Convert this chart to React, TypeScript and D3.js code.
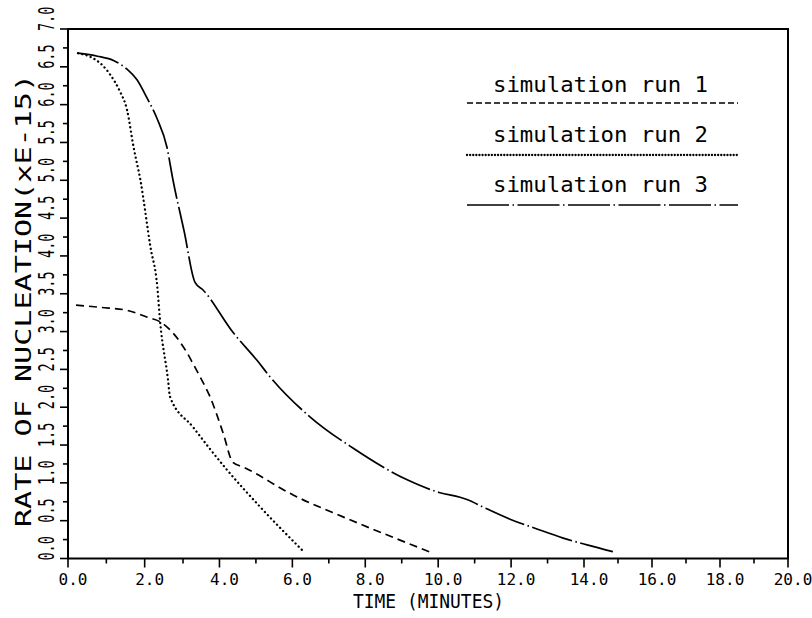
import React from "react";
import * as d3 from "d3";

// ---- data (time in minutes, rate x E-15) ----
const run1T = [0.21, 0.85, 1.55, 2.07, 2.4, 2.74, 3.11, 3.27, 3.47, 3.74, 4.1, 4.37, 4.65, 6.02, 7.39, 8.76, 9.86];
const run1V = [3.35, 3.32, 3.28, 3.19, 3.13, 2.98, 2.72, 2.58, 2.4, 2.14, 1.66, 1.27, 1.21, 0.84, 0.55, 0.28, 0.07];

const run2T = [0.26, 0.59, 0.9, 1.11, 1.35, 1.54, 1.71, 1.89, 2.15, 2.33, 2.4, 2.61, 2.66, 3.27, 4.21, 5.12, 6.27];
const run2V = [6.68, 6.63, 6.52, 6.39, 6.18, 5.93, 5.44, 5.0, 4.12, 3.59, 3.15, 2.36, 2.14, 1.74, 1.17, 0.68, 0.11];

const run3T = [0.26, 0.77, 1.2, 1.54, 1.8, 2.05, 2.32, 2.58, 2.74, 3.03, 3.33, 3.55, 4.37, 5.03, 5.39, 6.49, 7.66, 9.15, 10.05, 10.6, 10.79, 11.23, 11.97, 12.71, 13.43, 14.09, 14.85];
const run3V = [6.68, 6.64, 6.58, 6.47, 6.33, 6.1, 5.82, 5.44, 5.0, 4.33, 3.65, 3.55, 2.99, 2.62, 2.4, 1.87, 1.46, 1.04, 0.87, 0.81, 0.78, 0.68, 0.52, 0.39, 0.27, 0.18, 0.09];

const seriesNames = ["simulation run 1", "simulation run 2", "simulation run 3"];
const xTickLabels = ["0.0", "2.0", "4.0", "6.0", "8.0", "10.0", "12.0", "14.0", "16.0", "18.0", "20.0"];
const yTickLabels = ["0.0", "0.5", "1.0", "1.5", "2.0", "2.5", "3.0", "3.5", "4.0", "4.5", "5.0", "5.5", "6.0", "6.5", "7.0"];
const xTitle = "TIME (MINUTES)";
const yTitle = "RATE OF NUCLEATION(xE-15)";

// ---- layout ----
const W = 812;
const H = 618;
const LEFT = 68;
const RIGHT = 788;
const TOP = 29;
const BOTTOM = 558.5;

// plotter sheet is slightly distorted horizontally: piecewise-linear scale
const x = d3.scaleLinear().domain([0, 3, 14, 20]).range([LEFT, 183, 584, RIGHT]);
const y = d3.scaleLinear().domain([0, 7]).range([BOTTOM, TOP]);

const FONT = "'DejaVu Sans Mono', monospace";

const styles = [
  { dash: "8 5", width: 1.7, cap: "butt" as const, legendDash: "6 3" },
  { dash: "0.1 4.3", width: 2.3, cap: "round" as const, legendDash: "0.1 3" },
  { dash: "42 3.5 1.5 3.5", width: 1.7, cap: "butt" as const, legendDash: "42 3.5 1.5 3.5" },
];

function toPts(ts: number[], vs: number[]): [number, number][] {
  return ts.map((t, i) => [t, vs[i]]);
}

export default function App() {
  const line = d3
    .line<[number, number]>()
    .x((d) => x(d[0]))
    .y((d) => y(d[1]))
    .curve(d3.curveMonotoneX);

  const series = [toPts(run1T, run1V), toPts(run2T, run2V), toPts(run3T, run3V)];

  const xMinor = d3.range(0, 21, 1);
  const yMinor = d3.range(0, 7.01, 0.25);

  const legendX1 = 467;
  const legendX2 = 738;
  const legendTextX = 493;
  const legendBase = [92, 142, 192];
  const legendLineY = [103, 155, 205];

  return (
    <svg
      width={W}
      height={H}
      style={{ position: "absolute", left: 0, top: 0, background: "#fff" }}
    >
      <rect x={0} y={0} width={W} height={H} fill="#fff" />
      {/* frame */}
      <rect
        x={LEFT}
        y={TOP}
        width={RIGHT - LEFT}
        height={BOTTOM - TOP}
        fill="none"
        stroke="#000"
        strokeWidth={2}
      />
      {/* x ticks */}
      {xMinor.map((t) => {
        const major = t % 2 === 0;
        return (
          <line
            key={"xt" + t}
            x1={x(t)}
            x2={x(t)}
            y1={BOTTOM}
            y2={BOTTOM + (major ? 9 : 5)}
            stroke="#000"
            strokeWidth={1.6}
          />
        );
      })}
      {xTickLabels.map((lab, i) => (
        <text
          key={"xl" + i}
          x={x(i * 2) + 5}
          y={585}
          textAnchor="middle"
          fontFamily={FONT}
          fontSize={16}
          fill="#000"
        >
          {lab}
        </text>
      ))}
      {/* y ticks */}
      {yMinor.map((v, i) => {
        const major = i % 2 === 0;
        return (
          <line
            key={"yt" + i}
            x1={LEFT - (major ? 8 : 5)}
            x2={LEFT}
            y1={y(v)}
            y2={y(v)}
            stroke="#000"
            strokeWidth={1.6}
          />
        );
      })}
      {yTickLabels.map((lab, i) => (
        <text
          key={"yl" + i}
          transform={`translate(54,${y(i * 0.5) + 2}) rotate(-90) scale(1,1.6)`}
          textAnchor="start"
          fontFamily={FONT}
          fontSize={13.5}
          fill="#000"
        >
          {lab}
        </text>
      ))}
      {/* axis titles */}
      <text
        x={353}
        y={608}
        fontFamily={FONT}
        fontSize={20}
        textLength={151}
        lengthAdjust="spacingAndGlyphs"
        fill="#000"
      >
        {xTitle}
      </text>
      <text
        transform="translate(31,527) rotate(-90)"
        fontFamily={FONT}
        fontSize={21}
        textLength={453}
        lengthAdjust="spacingAndGlyphs"
        fill="#000"
      >
        {yTitle}
      </text>
      {/* series */}
      {series.map((pts, i) => (
        <path
          key={"s" + i}
          d={line(pts) || ""}
          fill="none"
          stroke="#000"
          strokeWidth={styles[i].width}
          strokeDasharray={styles[i].dash}
          strokeLinecap={styles[i].cap}
        />
      ))}
      {/* legend */}
      {seriesNames.map((name, i) => (
        <g key={"lg" + i}>
          <text
            x={legendTextX}
            y={legendBase[i]}
            fontFamily={FONT}
            fontSize={22}
            textLength={215}
            lengthAdjust="spacingAndGlyphs"
            fill="#000"
          >
            {name}
          </text>
          <line
            x1={legendX1}
            x2={legendX2}
            y1={legendLineY[i]}
            y2={legendLineY[i]}
            stroke="#000"
            strokeWidth={styles[i].width}
            strokeDasharray={styles[i].legendDash}
            strokeLinecap={styles[i].cap}
          />
        </g>
      ))}
    </svg>
  );
}
